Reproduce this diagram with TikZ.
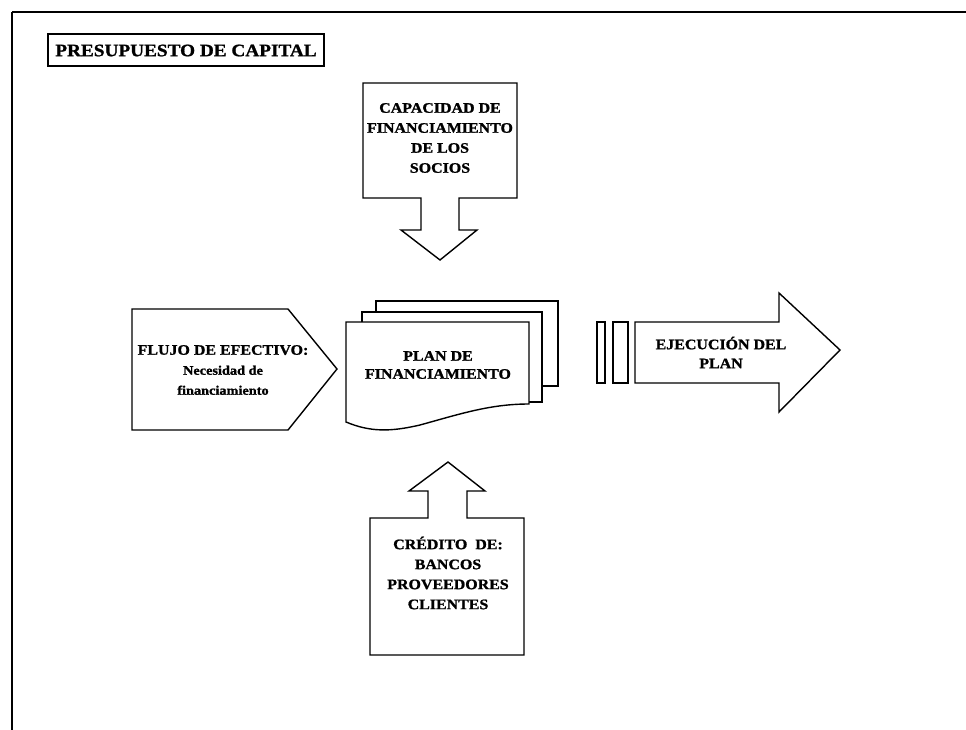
\documentclass[tikz,border=0pt]{standalone}
\usepackage{fontspec}
\setmainfont[FakeStretch=1.1,BoldFeatures={FakeBold=1.2}]{Liberation Serif}
\begin{document}
\begin{tikzpicture}[x=1pt,y=-1pt,line join=miter,
  blockshape/.style={draw=black,line width=1.4pt,fill=white},
  lbl/.style={font=\bfseries\fontsize{14.5}{20}\selectfont,align=center,inner sep=0pt}]
\useasboundingbox (0,0) rectangle (966,730);
\fill[white] (0,0) rectangle (966,730);
% outer frame
\draw[line width=2.8pt] (12,12) -- (966,12);
\draw[line width=1.6pt] (12,12) -- (12,730);
% title
\draw[blockshape] (48,34) rectangle (324,66);
\node[lbl,font=\bfseries\fontsize{17.5}{20}\selectfont] (title) at (186,50.5) {PRESUPUESTO DE CAPITAL};
% top block arrow
\draw[blockshape] (363,83) -- (517,83) -- (517,198) -- (459,198) -- (459,230) -- (477,230) -- (440,260) -- (401,230) -- (421,230) -- (421,198) -- (363,198) -- cycle;
\node[lbl] (socios) at (440,138) {CAPACIDAD DE\\FINANCIAMIENTO\\DE LOS\\SOCIOS};
% left pentagon
\draw[blockshape] (132,309) -- (288,309) -- (337,369) -- (288,430) -- (132,430) -- cycle;
\node[lbl] (flujo) at (223,370) {FLUJO DE EFECTIVO:\\{\fontsize{13}{20}\selectfont Necesidad de}\\{\fontsize{13}{20}\selectfont financiamiento}};
% document stack
\draw[blockshape] (376,301) -- (558,301) -- (558,386) -- (376,386) -- cycle;
\draw[blockshape] (362,312) -- (542,312) -- (542,402) -- (362,402) -- cycle;
\draw[blockshape] (346,322) -- (529,322) -- (529,404)
  .. controls (490,404) and (460,414) .. (420,425)
  .. controls (390,432) and (370,432) .. (346,422) -- cycle;
\node[lbl,font=\bfseries\fontsize{14.5}{18}\selectfont] (plan) at (438,365) {PLAN DE\\FINANCIAMIENTO};
% execution arrow
\draw[blockshape] (597,322) rectangle (605,383);
\draw[blockshape] (613,322) rectangle (628,383);
\draw[blockshape] (635,322) -- (779,322) -- (779,293) -- (840,350) -- (779,412) -- (779,383) -- (635,383) -- cycle;
\node[lbl,font=\bfseries\fontsize{14.5}{19}\selectfont] (ejec) at (721,352.5) {EJECUCIÓN DEL\\PLAN};
% bottom block arrow
\draw[blockshape] (370,518) -- (428,518) -- (428,491) -- (409,491) -- (448,462) -- (485,491) -- (467,491) -- (467,518) -- (524,518) -- (524,655) -- (370,655) -- cycle;
\node[lbl] (credito) at (448,573) {CRÉDITO~ DE:\\BANCOS\\PROVEEDORES\\CLIENTES};
\end{tikzpicture}
\end{document}
